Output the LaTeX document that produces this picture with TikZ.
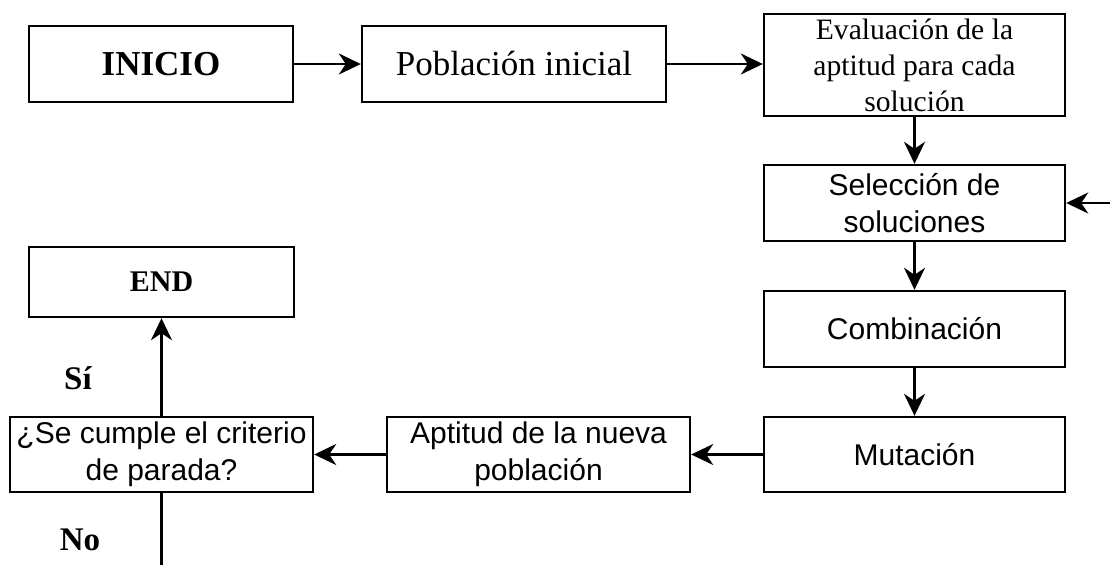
\documentclass[tikz,border=0pt]{standalone}
\usepackage{fontspec}
\setmainfont{Liberation Serif}
\newfontfamily\arialf{Liberation Sans}
\usetikzlibrary{arrows.meta}
\begin{document}
\begin{tikzpicture}[x=1pt,y=-1pt,
  box/.style={draw=black,line width=2.4pt,inner sep=0pt,align=center},
  sansbox/.style={box,font=\arialf\fontsize{30}{37}\selectfont},
  serifbox/.style={box,font=\fontsize{29.6}{36}\selectfont},
  conn/.style={line width=2.3pt,-{Stealth[length=22pt,width=21pt,inset=7pt]}},
  plainconn/.style={line width=2.3pt},
  lbl/.style={inner sep=0pt,font=\bfseries\fontsize{33}{38}\selectfont}
]
\useasboundingbox[fill=white] (0,0) rectangle (1110,565);

\node[box,minimum width=264pt,minimum height=76pt,font=\bfseries\fontsize{35}{40}\selectfont] (ini) at (161,64) {INICIO};
\node[serifbox,minimum width=304pt,minimum height=76pt,font=\fontsize{35}{40}\selectfont] (pob) at (514,64) {Población inicial};
\node[serifbox,minimum width=301pt,minimum height=102pt] (eva) at (914.5,65) {Evaluación de la\\aptitud para cada\\solución};
\node[sansbox,minimum width=301pt,minimum height=76pt] (sel) at (914.5,203) {Selección de\\soluciones};
\node[sansbox,minimum width=301pt,minimum height=76pt] (com) at (914.5,329) {Combinación};
\node[sansbox,minimum width=301pt,minimum height=75pt] (mut) at (914.5,454.5) {Mutación};
\node[sansbox,minimum width=303pt,minimum height=75pt] (apt) at (538.5,454.5) {Aptitud de la nueva\\población};
\node[sansbox,minimum width=303pt,minimum height=75pt] (cri) at (161.5,454.5) {¿Se cumple el criterio\\de parada?};
\node[box,minimum width=265pt,minimum height=70pt,font=\bfseries\fontsize{30}{35}\selectfont] (fin) at (161.5,282) {END};

\coordinate (rin) at (1110,203);
\coordinate (bot) at (161.5,565);

\node[lbl] (si) at (78,378) {Sí};
\node[lbl] (no) at (80,540) {No};

\draw[conn] (ini) -- (pob);
\draw[conn] (pob.east) -- (pob.east -| eva.west);
\draw[conn] (eva) -- (sel);
\draw[conn] (rin) -- (sel.east);
\draw[conn] (sel) -- (com);
\draw[conn] (com) -- (mut);
\draw[conn] (mut) -- (apt);
\draw[conn] (apt) -- (cri);
\draw[conn] (cri) -- (fin);
\draw[plainconn] (cri.south) -- (bot);
\end{tikzpicture}
\end{document}
